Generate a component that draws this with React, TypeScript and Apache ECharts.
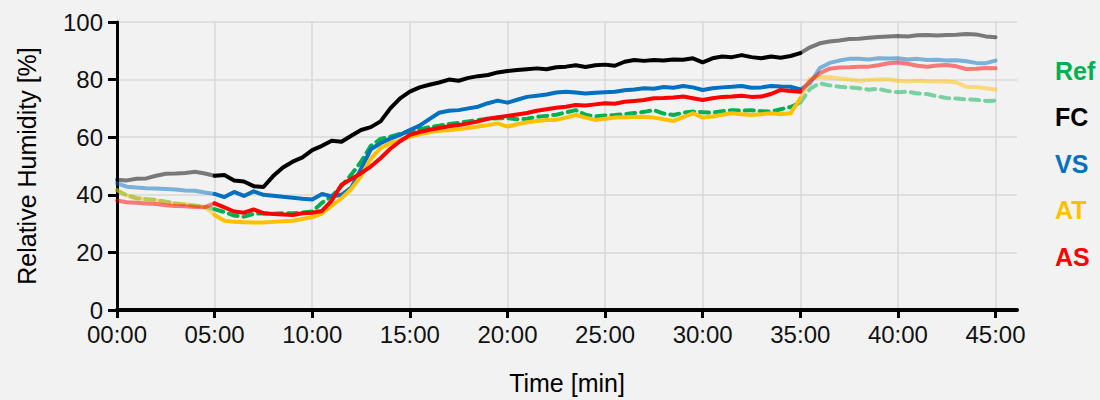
import React, { useEffect, useRef } from "react";
import * as echarts from "echarts";

// time in minutes, sampled every 0.5 min from 0 to 45
const timeMin: number[] = Array.from({ length: 91 }, (_, i) => i * 0.5);

const xTickValues = [0, 5, 10, 15, 20, 25, 30, 35, 40, 45];
const yTickValues = [0, 20, 40, 60, 80, 100];

const refRH = [41.5,39.8,38.8,38.5,38.2,37.6,37.0,36.6,36.2,35.8,35.0,
 34.0,32.8,32.4,33.4,33.6,33.4,33.6,33.6,33.8,34.2,
 37.2,39.5,43.0,47.0,51.5,57.0,59.4,60.2,61.2,62.0,
 62.8,63.5,64.0,64.6,65.0,65.5,66.0,66.4,66.6,66.6,
 66.2,66.4,67.0,67.4,67.8,68.6,69.4,67.8,67.2,67.5,
 67.7,68.0,68.4,68.8,69.4,68.2,67.7,68.5,68.9,68.7,
 68.5,69.0,69.4,69.2,69.4,69.0,68.9,69.7,70.5,72.0,
 76.8,78.7,78.0,77.5,77.3,77.0,76.5,76.8,76.0,75.6,
 75.8,75.2,75.0,74.2,73.6,73.4,73.1,73.0,72.6,72.7];

const fcRH = [45.2,45.0,45.6,45.7,46.6,47.3,47.4,47.6,48.0,47.4,46.6,
 46.9,45.0,44.6,43.0,42.7,46.5,49.5,51.5,53.0,55.5,
 57.0,58.8,58.4,60.5,62.5,63.5,65.5,70.0,73.5,75.8,
 77.3,78.2,79.0,80.0,79.6,80.6,81.2,81.6,82.5,83.0,
 83.3,83.6,83.9,83.6,84.3,84.5,85.0,84.4,85.0,85.2,
 84.8,86.2,86.8,86.5,86.8,86.6,87.0,86.9,87.4,86.0,
 87.4,88.0,87.8,88.5,87.8,87.4,88.0,87.6,88.2,89.2,
 91.2,92.6,93.2,93.6,94.1,94.2,94.5,94.8,95.0,95.1,
 95.0,95.4,95.5,95.3,95.5,95.6,95.8,95.7,95.0,94.7];

const vsRH = [44.0,42.8,42.5,42.3,42.2,42.0,41.8,41.5,41.4,40.8,40.3,
 39.2,41.0,39.6,41.2,40.0,39.7,39.3,39.0,38.6,38.4,
 40.3,39.4,40.0,42.5,49.0,55.8,57.9,59.5,60.8,62.5,
 64.0,66.3,68.5,69.2,69.4,70.0,70.6,71.8,72.7,72.0,
 73.0,74.0,74.4,74.8,75.5,75.8,75.5,75.2,75.4,75.6,
 75.8,76.3,76.6,77.0,76.8,77.4,77.2,77.8,77.3,76.4,
 77.0,77.3,77.5,77.8,77.2,77.3,77.8,77.6,77.5,76.6,
 78.7,84.0,85.8,86.6,87.2,87.2,87.0,87.4,87.3,87.4,
 87.0,87.2,86.8,86.9,86.6,86.7,86.4,85.8,85.7,86.6];

const atRH = [41.7,39.8,39.0,38.4,38.0,37.5,37.0,36.7,36.3,35.8,33.0,
 31.0,30.6,30.5,30.4,30.4,30.6,30.8,31.0,31.6,32.2,
 33.5,36.2,38.8,42.0,46.5,52.5,56.2,57.9,59.0,60.2,
 61.0,61.7,62.2,62.4,62.8,63.2,63.7,64.2,64.8,63.7,
 64.5,65.2,65.6,66.0,66.0,66.8,67.7,66.8,66.0,66.4,
 66.8,66.9,67.0,67.1,66.8,66.2,65.6,67.0,68.3,66.8,
 67.2,67.8,68.3,68.0,67.7,68.0,68.3,68.0,68.3,73.5,
 80.2,81.0,80.8,80.4,80.0,79.6,79.9,80.0,80.1,79.6,
 79.3,79.6,79.4,79.3,79.3,79.0,77.5,77.4,77.0,76.6];

const asRH = [38.0,37.4,37.2,37.0,36.8,36.4,36.1,36.0,35.8,35.7,37.0,
 35.6,34.2,33.8,34.9,33.6,33.3,33.2,33.0,33.6,33.8,
 34.4,38.0,43.5,45.5,47.5,49.8,52.7,56.0,58.6,60.8,
 61.8,62.6,63.2,63.8,64.2,64.8,65.5,66.4,66.9,67.4,
 67.9,68.4,69.2,69.7,70.2,70.6,71.2,71.0,71.4,71.8,
 71.6,72.3,72.6,72.9,73.5,73.6,73.8,74.1,73.5,72.9,
 73.5,74.0,74.1,74.4,74.0,74.1,75.0,76.4,76.0,75.8,
 79.5,82.2,83.8,84.2,84.3,84.5,84.5,85.0,85.7,85.9,
 85.5,84.8,84.5,84.9,85.1,84.6,83.7,83.8,84.0,83.9];

const sensorNames = ["Ref", "FC", "VS", "AT", "AS"];
const sensorColors = ["#00b050", "#000000", "#0070c0", "#ffc000", "#ff0000"];
const sensorValues = [refRH, fcRH, vsRH, atRH, asRH];

// phase boundaries (minutes): light before 05:00 and after 35:00
const phaseStart = 5;
const phaseEnd = 35;

const FONT = "'Liberation Sans', Arial, Helvetica, sans-serif";

function fmt(v: number): string {
  const m = Math.round(v);
  return (m < 10 ? "0" + m : "" + m) + ":00";
}

export default function App() {
  const ref = useRef<HTMLDivElement>(null);
  useEffect(() => {
    if (!ref.current) return;
    const chart = echarts.init(ref.current, null, { renderer: "svg" });

    const series: any[] = [];
    sensorNames.forEach((name, si) => {
      const vals = sensorValues[si];
      const pts = timeMin.map((t, i) => [t, vals[i]]);
      const segs = [
        { data: pts.filter((p) => p[0] <= phaseStart), opacity: 0.5 },
        { data: pts.filter((p) => p[0] >= phaseStart && p[0] <= phaseEnd), opacity: 1 },
        { data: pts.filter((p) => p[0] >= phaseEnd), opacity: 0.5 },
      ];
      segs.forEach((s) => {
        series.push({
          name,
          type: "line",
          data: s.data,
          showSymbol: false,
          symbol: "none",
          silent: true,
          lineStyle: {
            color: sensorColors[si],
            width: 4,
            opacity: s.opacity,
            type: name === "Ref" ? [9, 6] : "solid",
            cap: "round",
            join: "round",
          },
          itemStyle: { color: sensorColors[si] },
        });
      });
    });

    chart.setOption({
      animation: false,
      backgroundColor: "#f2f2f2",
      textStyle: { fontFamily: FONT },
      grid: {
        left: 117,
        right: 83,
        top: 22,
        bottom: 90,
        containLabel: false,
        outerBoundsMode: "none",
      },
      legend: {
        orient: "vertical",
        left: 1045,
        top: 53,
        icon: "none",
        itemWidth: 0,
        itemHeight: 14,
        itemGap: 21.5,
        selectedMode: false,
        data: sensorNames.map((n, i) => ({
          name: n,
          textStyle: {
            color: sensorColors[i],
            fontSize: 25,
            fontWeight: "bold",
            fontFamily: FONT,
            lineHeight: 25,
          },
        })),
      },
      xAxis: {
        type: "value",
        min: 0,
        max: 46.1,
        interval: 5,
        name: "Time [min]",
        nameLocation: "middle",
        nameGap: 60,
        nameTextStyle: { fontSize: 25, color: "#000", fontFamily: FONT },
        axisLine: { show: true, onZero: false, lineStyle: { color: "#000", width: 4 } },
        axisTick: {
          show: true,
          length: 8,
          lineStyle: { color: "#000", width: 3 },
          customValues: xTickValues,
        },
        axisLabel: {
          fontSize: 24,
          lineHeight: 19,
          color: "#111",
          margin: 15,
          fontFamily: FONT,
          customValues: xTickValues,
          formatter: (v: number) => fmt(v),
        },
        splitLine: { show: true, lineStyle: { color: "#d9d9d9", width: 1.5 } },
      },
      yAxis: {
        type: "value",
        min: 0,
        max: 100,
        interval: 20,
        name: "Relative Humidity [%]",
        nameLocation: "middle",
        nameGap: 78,
        nameTextStyle: { fontSize: 25, color: "#000", fontFamily: FONT },
        axisLine: { show: true, lineStyle: { color: "#000", width: 3 } },
        axisTick: { show: true, length: 9, lineStyle: { color: "#000", width: 3 } },
        axisLabel: {
          fontSize: 24,
          lineHeight: 19,
          color: "#111",
          margin: 14,
          fontFamily: FONT,
          customValues: yTickValues,
        },
        splitLine: { show: true, lineStyle: { color: "#d9d9d9", width: 1.5 } },
      },
      series,
    });

    return () => chart.dispose();
  }, []);

  return (
    <div
      ref={ref}
      style={{ position: "fixed", left: 0, top: 0, width: 1100, height: 400 }}
    />
  );
}
